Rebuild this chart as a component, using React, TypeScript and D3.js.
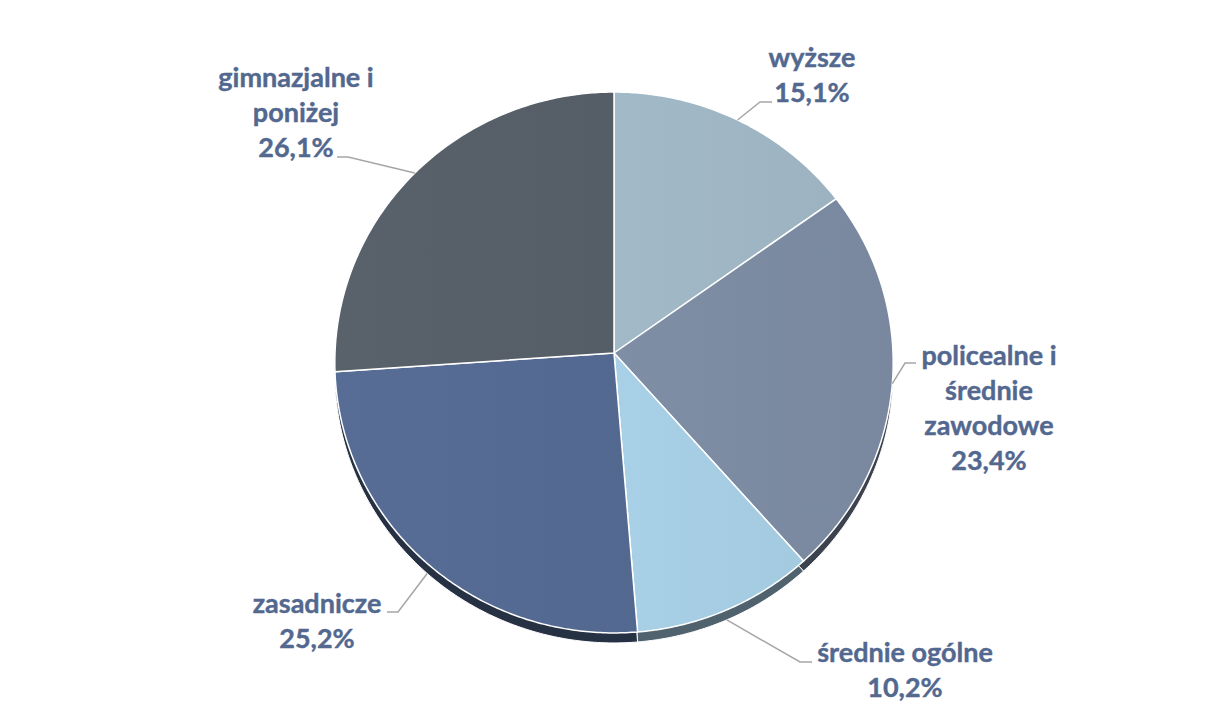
import React from "react";
import * as d3 from "d3";

const categories = [
  "wyższe",
  "policealne i średnie zawodowe",
  "średnie ogólne",
  "zasadnicze",
  "gimnazjalne i poniżej",
];
const values = [15.1, 23.4, 10.2, 25.2, 26.1];
const labelLines = [
  ["wyższe"],
  ["policealne i", "średnie", "zawodowe"],
  ["średnie ogólne"],
  ["zasadnicze"],
  ["gimnazjalne i", "poniżej"],
];
const colors = ["#A2B9C7", "#7E8EA5", "#A8D0E6", "#536890", "#555D66"];

// layout (not data)
const W = 1208;
const H = 720;
const CX = 614;
const CY = 353;
const AX = 279; // horizontal semi-axis
const BY = 270.1; // vertical semi-axis scale
const PERSP = 0.0351; // perspective factor
const DEPTH = 10; // side wall thickness
const LINE_H = 35;
const labelLayout = [
  { cx: 812, y0: 67, elbow: [760, 102], end: 772, wall: false },
  { cx: 989, y0: 365, elbow: [905, 363], end: 916, wall: false },
  { cx: 905, y0: 662, elbow: [800, 662], end: 812, wall: true },
  { cx: 317, y0: 613, elbow: [398, 612], end: 387, wall: true },
  { cx: 296, y0: 87, elbow: [348, 157], end: 337, wall: false },
];

function proj(phi: number, t: number): [number, number] {
  const d = 1 + PERSP * t * Math.cos(phi);
  return [CX + (AX * t * Math.sin(phi)) / d, CY - (BY * t * Math.cos(phi)) / d];
}

const locale = d3.formatLocale({
  decimal: ",",
  thousands: " ",
  grouping: [3],
  currency: ["", " zł"],
});
const fmt = locale.format(".1f");

export default function App() {
  const pie = d3.pie<number>().sort(null).value((d) => d)(values);
  const line = d3.line().curve(d3.curveLinearClosed);

  const slicePath = (a0: number, a1: number, dy: number) => {
    const n = Math.max(8, Math.ceil((a1 - a0) / 0.01));
    const pts: [number, number][] = [[CX, CY + dy]];
    for (let i = 0; i <= n; i++) {
      const p = proj(a0 + ((a1 - a0) * i) / n, 1);
      pts.push([p[0], p[1] + dy]);
    }
    return line(pts) as string;
  };

  const darker = colors.map((c) => d3.color(c)!.darker(2.1).formatHex());

  return (
    <svg
      width={W}
      height={H}
      style={{ position: "absolute", left: 0, top: 0, background: "#fff" }}
    >
      <defs>
        {colors.map((c, i) => (
          <linearGradient
            key={i}
            id={`g${i}`}
            gradientUnits="userSpaceOnUse"
            x1={CX - AX}
            y1={CY}
            x2={CX + AX}
            y2={CY}
          >
            <stop offset="0" stopColor={d3.color(c)!.brighter(0.12).formatHex()} />
            <stop offset="1" stopColor={d3.color(c)!.darker(0.12).formatHex()} />
          </linearGradient>
        ))}
      </defs>
      <g>
        {pie.map((p, i) => (
          <path
            key={"w" + i}
            d={slicePath(p.startAngle, p.endAngle, DEPTH)}
            fill={darker[i]}
            stroke="#fff"
            strokeWidth={1}
          />
        ))}
        {pie.map((p, i) => (
          <path
            key={"t" + i}
            d={slicePath(p.startAngle, p.endAngle, 0)}
            fill={`url(#g${i})`}
            stroke="#fff"
            strokeWidth={1.5}
            strokeLinejoin="round"
          />
        ))}
      </g>
      <g>
        {pie.map((p, i) => {
          const mid = (p.startAngle + p.endAngle) / 2;
          const s = proj(mid, 1);
          const L = labelLayout[i];
          const sy = s[1] + (L.wall ? DEPTH : 0);
          return (
            <polyline
              key={"l" + i}
              points={`${s[0]},${sy} ${L.elbow[0]},${L.elbow[1]} ${L.end},${L.elbow[1]}`}
              fill="none"
              stroke="#A6A6A6"
              strokeWidth={1.5}
            />
          );
        })}
      </g>
      <g
        fontFamily="Lato, 'Open Sans', sans-serif"
        fontWeight="bold"
        fontSize={27}
        fill="#53688F"
        stroke="#53688F"
        strokeWidth={0.4}
        textAnchor="middle"
      >
        {values.map((v, i) => {
          const L = labelLayout[i];
          const lines = [...labelLines[i], fmt(v) + "%"];
          return (
            <text key={"t" + i} aria-label={categories[i]}>
              {lines.map((s, j) => (
                <tspan key={j} x={L.cx} y={L.y0 + j * LINE_H}>
                  {s}
                </tspan>
              ))}
            </text>
          );
        })}
      </g>
    </svg>
  );
}
